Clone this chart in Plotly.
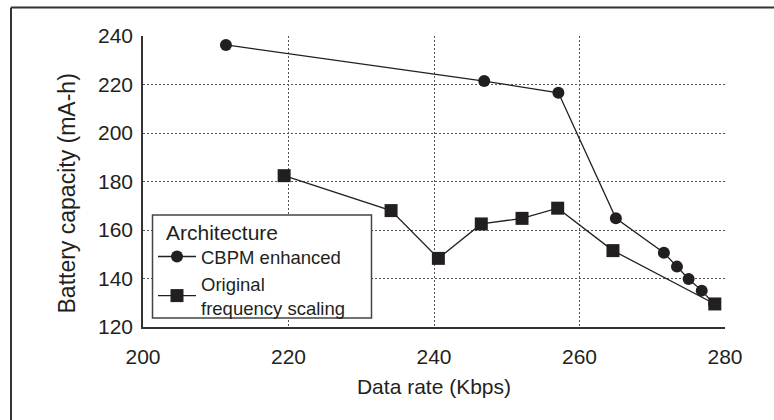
import plotly.graph_objects as go

cbpm_x = [211.4, 246.9, 257.1, 265.0, 271.6, 273.4, 275.0, 276.8, 278.5]
cbpm_y = [236.3, 221.4, 216.6, 164.8, 150.6, 144.9, 139.8, 135.0, 129.5]
orig_x = [219.4, 234.1, 240.6, 246.5, 252.1, 257.0, 264.6, 278.6]
orig_y = [182.4, 168.0, 148.3, 162.5, 164.8, 169.0, 151.5, 129.5]
x_ticks = [200, 220, 240, 260, 280]
y_ticks = [120, 140, 160, 180, 200, 220, 240]

W, H = 774, 420
L, R, T, B = 143, 49, 36, 93
pw, ph = W - L - R, H - T - B
ink = "#231f20"
font = "Liberation Sans, Arial, sans-serif"

fig = go.Figure()
fig.add_trace(go.Scatter(x=cbpm_x, y=cbpm_y, mode="lines+markers", name="CBPM enhanced",
                         line=dict(color=ink, width=1.3),
                         marker=dict(symbol="circle", size=12, color=ink)))
fig.add_trace(go.Scatter(x=orig_x, y=orig_y, mode="lines+markers", name="Original<br>frequency scaling",
                         line=dict(color=ink, width=1.3),
                         marker=dict(symbol="square", size=13, color=ink)))

def px2x(p):
    return (p - L) / pw
def px2y(p):
    return (H - B - p) / ph

shapes = [
    dict(type="line", xref="paper", yref="paper", x0=px2x(11), x1=px2x(11), y0=px2y(7.5), y1=px2y(H + 5),
         line=dict(color="#333", width=2)),
    dict(type="line", xref="paper", yref="paper", x0=px2x(11), x1=px2x(W + 5), y0=px2y(7.5), y1=px2y(7.5),
         line=dict(color="#333", width=2)),
    # legend box
    dict(type="rect", xref="paper", yref="paper", layer="above",
         x0=px2x(152.5), x1=px2x(371.5), y0=px2y(318), y1=px2y(215),
         fillcolor="white", line=dict(color="#444", width=1.5)),
]

annotations = [
    dict(text="Battery capacity (mA-h)", xref="paper", yref="paper", x=px2x(66), y=px2y(193.5),
         xanchor="center", yanchor="middle", textangle=-90, showarrow=False,
         font=dict(size=23, color=ink, family=font)),
    dict(text="Architecture", xref="paper", yref="paper", x=px2x(164), y=px2y(232),
         xanchor="left", yanchor="middle", showarrow=False,
         font=dict(size=21, color=ink, family=font)),
]

fig.update_layout(
    width=W, height=H, margin=dict(l=L, r=R, t=T, b=B, autoexpand=False),
    paper_bgcolor="white", plot_bgcolor="white",
    font=dict(family=font, size=19, color=ink),
    shapes=shapes, annotations=annotations,
    showlegend=True,
    legend=dict(x=px2x(153), y=px2y(238), xanchor="left", yanchor="top",
                bgcolor="rgba(0,0,0,0)", borderwidth=0,
                font=dict(size=18.5), tracegroupgap=0, itemwidth=38),
    xaxis=dict(range=[200, 280], tickvals=x_ticks, showgrid=True, gridcolor="#555", griddash="2px,2px",
               gridwidth=1, showline=True, linecolor="#333", linewidth=1.5, zeroline=False,
               ticks="outside", ticklen=10, tickcolor="rgba(0,0,0,0)", tickfont=dict(size=21),
               title=dict(text="Data rate (Kbps)", font=dict(size=21), standoff=12), automargin=False),
    yaxis=dict(range=[120, 240], tickvals=y_ticks, showgrid=True, gridcolor="#555", griddash="2px,2px",
               gridwidth=1, showline=True, linecolor="#333", linewidth=1.5, zeroline=False,
               ticks="outside", ticklen=4, tickcolor="rgba(0,0,0,0)", tickfont=dict(size=21),
               automargin=False),
)
fig.write_html("out.html")
